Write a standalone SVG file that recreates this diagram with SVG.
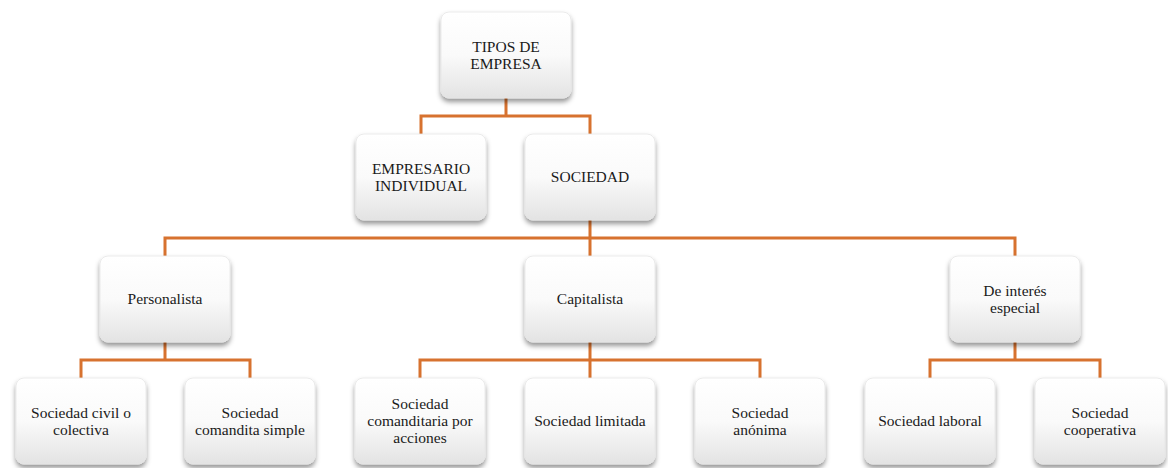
<svg xmlns="http://www.w3.org/2000/svg" width="1168" height="468" viewBox="0 0 1168 468">
<style>
.box{fill:url(#g);stroke:#e6e6e6;stroke-width:0.8;filter:url(#sh)}
.t{font-family:"Liberation Serif","Times New Roman",serif;font-size:15.5px;fill:#1a1a1a;text-anchor:middle}
.c{fill:none;stroke:#D7722F;stroke-width:3}
</style>
<defs>
<linearGradient id="g" x1="0" y1="0" x2="0" y2="1">
<stop offset="0" stop-color="#ffffff"/>
<stop offset="0.5" stop-color="#fafafa"/>
<stop offset="1" stop-color="#e3e3e3"/>
</linearGradient>
<filter id="sh" x="-20%" y="-20%" width="140%" height="150%">
<feDropShadow dx="0" dy="3.5" stdDeviation="2.5" flood-color="#000" flood-opacity="0.42"/>
</filter>
</defs>
<rect width="1168" height="468" fill="#ffffff"/>
<g id="connectors">
<path class="c" d="M506 98V116M421 134V116H590V134"/>
<path class="c" d="M590 220V256M165 256V238H1015V256"/>
<path class="c" d="M165 342V360M81 378V360H250V378"/>
<path class="c" d="M590 342V378M420 378V360H760V378"/>
<path class="c" d="M1015 342V360M930 378V360H1100V378"/>
</g>
<g id="tipos"><rect class="box" x="441" y="12" width="130" height="86" rx="8"/><text class="t" x="506" y="52">TIPOS DE</text><text class="t" x="506" y="69">EMPRESA</text></g>
<g id="empresario"><rect class="box" x="356" y="134" width="130" height="86" rx="8"/><text class="t" x="421" y="174">EMPRESARIO</text><text class="t" x="421" y="191">INDIVIDUAL</text></g>
<g id="sociedad"><rect class="box" x="525" y="134" width="130" height="86" rx="8"/><text class="t" x="590" y="182">SOCIEDAD</text></g>
<g id="personalista"><rect class="box" x="100" y="256" width="130" height="86" rx="8"/><text class="t" x="165" y="304">Personalista</text></g>
<g id="capitalista"><rect class="box" x="525" y="256" width="130" height="86" rx="8"/><text class="t" x="590" y="304">Capitalista</text></g>
<g id="interes"><rect class="box" x="950" y="256" width="130" height="86" rx="8"/><text class="t" x="1015" y="296">De interés</text><text class="t" x="1015" y="313">especial</text></g>
<g id="civil"><rect class="box" x="16" y="378" width="130" height="86" rx="8"/><text class="t" x="81" y="418">Sociedad civil o</text><text class="t" x="81" y="435">colectiva</text></g>
<g id="comsimple"><rect class="box" x="185" y="378" width="130" height="86" rx="8"/><text class="t" x="250" y="418">Sociedad</text><text class="t" x="250" y="435">comandita simple</text></g>
<g id="comacciones"><rect class="box" x="355" y="378" width="130" height="86" rx="8"/><text class="t" x="420" y="409">Sociedad</text><text class="t" x="420" y="426">comanditaria por</text><text class="t" x="420" y="443">acciones</text></g>
<g id="limitada"><rect class="box" x="525" y="378" width="130" height="86" rx="8"/><text class="t" x="590" y="426">Sociedad limitada</text></g>
<g id="anonima"><rect class="box" x="695" y="378" width="130" height="86" rx="8"/><text class="t" x="760" y="418">Sociedad</text><text class="t" x="760" y="435">anónima</text></g>
<g id="laboral"><rect class="box" x="865" y="378" width="130" height="86" rx="8"/><text class="t" x="930" y="426">Sociedad laboral</text></g>
<g id="cooperativa"><rect class="box" x="1035" y="378" width="130" height="86" rx="8"/><text class="t" x="1100" y="418">Sociedad</text><text class="t" x="1100" y="435">cooperativa</text></g>
</svg>
